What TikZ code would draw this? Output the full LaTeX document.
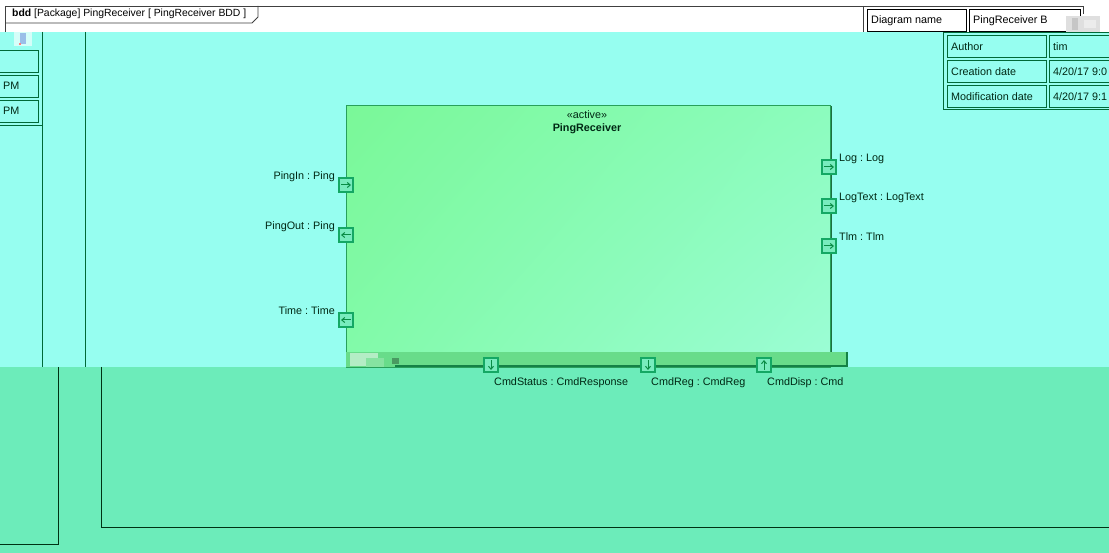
\documentclass[tikz,border=0pt]{standalone}
\usepackage{fontspec}
\setmainfont{Liberation Sans}
\usetikzlibrary{arrows.meta,shadings}
\frenchspacing
\definecolor{cyanbg}{RGB}{150,254,240}
\definecolor{lowbg}{RGB}{108,236,186}
\definecolor{dkgreen}{RGB}{0,105,55}
\definecolor{lowline}{RGB}{0,50,20}
\definecolor{txt}{RGB}{0,40,20}
\definecolor{blockedge}{RGB}{40,160,90}
\definecolor{portfill}{RGB}{120,236,190}
\definecolor{portedge}{RGB}{20,168,100}
\definecolor{portarrow}{RGB}{10,140,70}
\definecolor{stripfill}{RGB}{104,220,138}
\definecolor{stripedge}{RGB}{20,130,70}
\definecolor{framegray}{RGB}{64,64,64}
\definecolor{bUL}{RGB}{122,248,152}
\definecolor{bUR}{RGB}{140,252,190}
\definecolor{bLL}{RGB}{130,250,170}
\definecolor{bLR}{RGB}{156,253,214}
\begin{document}
\begin{tikzpicture}[x=1pt,y=-1pt,
  font=\fontsize{10.8}{12}\selectfont,
  port/.style={draw=portedge, fill=portfill, line width=1.1pt, minimum size=14pt, inner sep=0pt, rectangle},
  parr/.style={-{Straight Barb[length=3pt,width=5pt]}, draw=portarrow, line width=1pt},
  lbl/.style={text=txt, inner sep=0pt},
  cell/.style={draw=dkgreen, line width=0.9pt, rectangle, inner sep=0pt, anchor=north west},
  wcell/.style={draw=black, line width=0.8pt, fill=white, rectangle, inner sep=0pt, anchor=north west},
  vline/.style={draw=dkgreen, line width=1pt},
  lowl/.style={draw=lowline, line width=1pt}]
\clip (0,0) rectangle (1109,553);
\useasboundingbox (0,0) rectangle (1109,553);
% backgrounds
\fill[white] (0,0) rectangle (1109,32);
\fill[cyanbg] (0,32) rectangle (1109,367);
\fill[lowbg] (0,367) rectangle (1109,553);
% top frame
\draw[framegray, line width=0.9pt] (5,32) -- (5,6) -- (1083,6) -- (1083,14);
\draw[framegray, line width=0.9pt] (5,23) -- (252,23) -- (258,17) -- (258,6);
\draw[framegray, line width=0.9pt] (863,6) -- (863,32);
\node[lbl, text=black, anchor=west, font=\fontsize{10.4}{12}\selectfont] (title) at (12,14) {\textbf{bdd} [Package] PingReceiver [ PingReceiver BDD ]};
\node[wcell, minimum width=99pt, minimum height=22pt] (dn) at (867,9) {};
\node[lbl, text=black, anchor=west] at ([xshift=4pt]dn.west) {Diagram name};
\node[wcell, minimum width=111pt, minimum height=22pt] (dv) at (969,9) {};
\node[lbl, text=black, anchor=west] at ([xshift=4pt]dv.west) {PingReceiver B};
% glitch patch top right
\fill[gray!25] (1066,16) rectangle (1100,32);
\fill[gray!45] (1072,18) rectangle (1078,30);
\fill[gray!15] (1084,20) rectangle (1096,28);
% left vertical lines
\draw[vline] (42,32) -- (42,367);
\draw[vline] (85,32) -- (85,367);
\draw[vline] (0,126) -- (42,126);
\node[cell, minimum width=42pt, minimum height=22pt] (l1) at (-4,50) {};
\node[cell, minimum width=42pt, minimum height=22pt] (l2) at (-4,75) {};
\node[lbl, anchor=west] at (3,86) {PM};
\node[cell, minimum width=42pt, minimum height=22pt] (l3) at (-4,100) {};
\node[lbl, anchor=west] at (3,111) {PM};
% glitch icon top left
\fill[white!60!cyanbg] (14,32) rectangle (32,46);
\fill[cyan!60!blue!40] (20,33) rectangle (26,44);
\fill[red!50] (19,43) rectangle (21,45);
% lower region lines
\draw[lowl] (0,544) -- (58,544) -- (58,367);
\draw[lowl] (101,367) -- (101,527) -- (1109,527);
% info table
\node[cell, minimum width=170pt, minimum height=77pt] (tab) at (943,32) {};
\node[cell, minimum width=99pt, minimum height=22pt] (a1) at (947,35) {};
\node[lbl, anchor=west] at ([xshift=4pt]a1.west) {Author};
\node[cell, minimum width=70pt, minimum height=22pt] (a2) at (1049,35) {};
\node[lbl, anchor=west] at ([xshift=4pt]a2.west) {tim};
\node[cell, minimum width=99pt, minimum height=22pt] (b1) at (947,60) {};
\node[lbl, anchor=west] at ([xshift=4pt]b1.west) {Creation date};
\node[cell, minimum width=70pt, minimum height=22pt] (b2) at (1049,60) {};
\node[lbl, anchor=west] at ([xshift=4pt]b2.west) {4/20/17 9:0};
\node[cell, minimum width=99pt, minimum height=22pt] (c1) at (947,85) {};
\node[lbl, anchor=west] at ([xshift=4pt]c1.west) {Modification date};
\node[cell, minimum width=70pt, minimum height=22pt] (c2) at (1049,85) {};
\node[lbl, anchor=west] at ([xshift=4pt]c2.west) {4/20/17 9:1};
% block
\draw[blockedge!70!black, line width=1pt] (831,106) -- (831,352);
\node[rectangle, draw=blockedge, line width=1pt, anchor=north west,
  minimum width=484pt, minimum height=262pt, inner sep=0pt,
  upper left=bUL, upper right=bUR, lower left=bLL, lower right=bLR] (block) at (346,105) {};
\node[lbl, anchor=center] (stereo) at (587,115) {«active»};
\node[lbl, anchor=center] (bname) at (587,129) {\textbf{PingReceiver}};
% bottom strip
\fill[stripfill] (346,352) rectangle (847,367);
\draw[stripedge, line width=1.2pt] (395,366) -- (847,366) -- (847,352);
\fill[white!50!stripfill] (350,353) rectangle (378,366);
\fill[stripfill!80!white] (366,358) rectangle (384,367);
\fill[stripfill!70!black] (392,358) rectangle (399,364);
% left ports
\node[port] (pIn) at (346,185) {};
\draw[parr] ([xshift=-5pt]pIn.center) -- ([xshift=5pt]pIn.center);
\node[lbl, anchor=base east] at (335,180) {PingIn : Ping};
\node[port] (pOut) at (346,235) {};
\draw[parr] ([xshift=5pt]pOut.center) -- ([xshift=-5pt]pOut.center);
\node[lbl, anchor=base east] at (335,230) {PingOut : Ping};
\node[port] (pTime) at (346,320) {};
\draw[parr] ([xshift=5pt]pTime.center) -- ([xshift=-5pt]pTime.center);
\node[lbl, anchor=base east] at (335,315) {Time : Time};
% right ports
\node[port] (pLog) at (829,167) {};
\draw[parr] ([xshift=-5pt]pLog.center) -- ([xshift=5pt]pLog.center);
\node[lbl, anchor=base west] at (839,162) {Log : Log};
\node[port] (pLogText) at (829,206) {};
\draw[parr] ([xshift=-5pt]pLogText.center) -- ([xshift=5pt]pLogText.center);
\node[lbl, anchor=base west] at (839,201) {LogText : LogText};
\node[port] (pTlm) at (829,246) {};
\draw[parr] ([xshift=-5pt]pTlm.center) -- ([xshift=5pt]pTlm.center);
\node[lbl, anchor=base west] at (839,241) {Tlm : Tlm};
% bottom ports (yshift is in page direction: +up)
\node[port] (pStat) at (491,365) {};
\draw[parr] ([yshift=5pt]pStat.center) -- ([yshift=-5pt]pStat.center);
\node[lbl, anchor=base west] at (494,386) {CmdStatus : CmdResponse};
\node[port] (pReg) at (648,365) {};
\draw[parr] ([yshift=5pt]pReg.center) -- ([yshift=-5pt]pReg.center);
\node[lbl, anchor=base west] at (651,386) {CmdReg : CmdReg};
\node[port] (pDisp) at (764,365) {};
\draw[parr] ([yshift=-5pt]pDisp.center) -- ([yshift=5pt]pDisp.center);
\node[lbl, anchor=base west] at (767,386) {CmdDisp : Cmd};
\end{tikzpicture}
\end{document}
